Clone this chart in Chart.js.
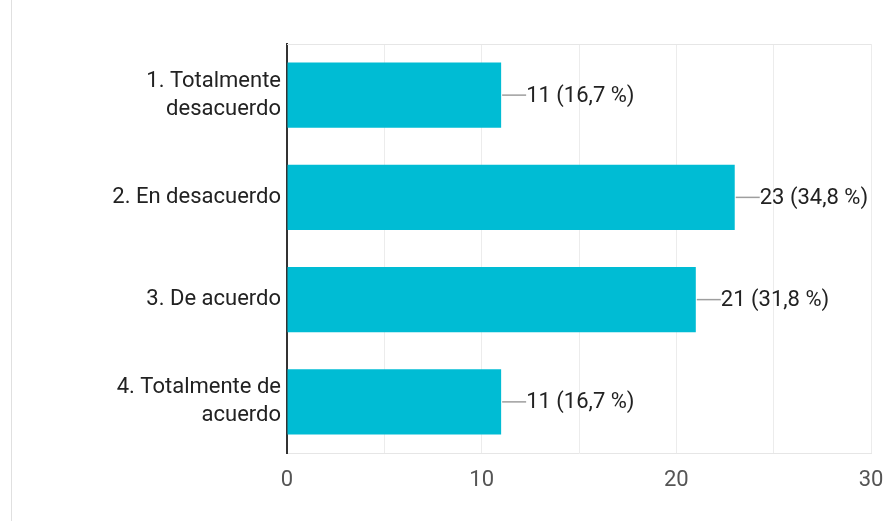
<!DOCTYPE html>
<html>
<head>
<meta charset="utf-8">
<script src="https://cdn.jsdelivr.net/npm/chart.js@4/dist/chart.umd.min.js"></script>
<style>
    html, body { margin: 0; padding: 0; background: #fff; }
    .card { position: relative; width: 885px; height: 521px; }
    .card-edge { position: absolute; left: 11px; top: 0; width: 1px; height: 521px; background: #e0e0e0; }
    #answers-chart { position: absolute; left: 0; top: 0; }
</style>
</head>
<body>
<div class="card">
    <div class="card-edge"></div>
    <canvas id="answers-chart" width="885" height="521"></canvas>
</div>
<script>
// Survey answers
const categories = [
    ['1. Totalmente', 'desacuerdo'],
    '2. En desacuerdo',
    '3. De acuerdo',
    ['4. Totalmente de', 'acuerdo']
];
const counts = [11, 23, 21, 11];
const xTicks = [0, 10, 20, 30];

const total = counts.reduce((a, b) => a + b, 0);
const FONT = 'Roboto';

// Value labels with a short leader line after each bar
const valueLabels = {
    id: 'valueLabels',
    afterDatasetsDraw(chart) {
        const ctx = chart.ctx;
        const meta = chart.getDatasetMeta(0);
        ctx.save();
        ctx.font = '22px ' + FONT;
        ctx.textBaseline = 'middle';
        meta.data.forEach((bar, i) => {
            const pct = (counts[i] / total * 100).toFixed(1).replace('.', ',');
            const x = bar.x;
            const y = bar.y;
            ctx.strokeStyle = '#9e9e9e';
            ctx.lineWidth = 1.5;
            ctx.beginPath();
            ctx.moveTo(x + 1, y);
            ctx.lineTo(x + 25, y);
            ctx.stroke();
            ctx.fillStyle = '#222';
            ctx.textAlign = 'left';
            ctx.fillText(counts[i] + ' (' + pct + ' %)', x + 25, y + 1);
        });
        ctx.restore();
    }
};

// Light top edge of the plot area
const plotFrame = {
    id: 'plotFrame',
    beforeDatasetsDraw(chart) {
        const { ctx, chartArea } = chart;
        ctx.save();
        ctx.strokeStyle = '#e6e6e6';
        ctx.lineWidth = 1;
        ctx.beginPath();
        ctx.moveTo(chartArea.left, chartArea.top + 0.5);
        ctx.lineTo(chartArea.right, chartArea.top + 0.5);
        ctx.stroke();
        ctx.restore();
    }
};

new Chart(document.getElementById('answers-chart'), {
    type: 'bar',
    data: {
        labels: categories,
        datasets: [{
            data: counts,
            backgroundColor: '#00bcd4',
            borderWidth: 0,
            categoryPercentage: 0.64,
            barPercentage: 1
        }]
    },
    options: {
        indexAxis: 'y',
        responsive: false,
        animation: false,
        layout: { padding: { top: 44, right: 14, bottom: 0, left: 0 } },
        plugins: {
            legend: { display: false },
            tooltip: { enabled: false }
        },
        scales: {
            x: {
                min: 0,
                max: 30,
                ticks: {
                    stepSize: 5,
                    padding: 14,
                    color: '#555',
                    font: { family: FONT, size: 22 },
                    callback: v => xTicks.includes(v) ? String(v) : ''
                },
                grid: { color: '#ececec', drawTicks: false },
                border: { color: '#e6e6e6', width: 1 },
                afterFit(scale) {
                    scale.height = 68;
                    scale.paddingRight = 0;
                }
            },
            y: {
                ticks: {
                    padding: 6,
                    color: '#222',
                    font: { family: FONT, size: 22, lineHeight: 1.27 }
                },
                grid: { display: false, drawTicks: false },
                border: { color: '#333', width: 2 },
                afterFit(scale) { scale.width = 287; }
            }
        }
    },
    plugins: [plotFrame, valueLabels]
});
</script>
</body>
</html>
